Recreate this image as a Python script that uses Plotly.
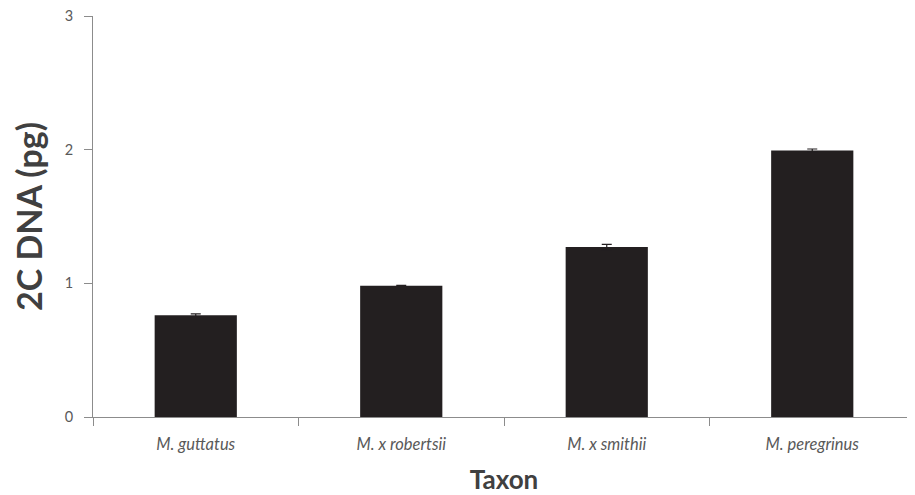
import plotly.graph_objects as go

taxa = ["M. guttatus", "M. x robertsii", "M. x smithii", "M. peregrinus"]
dna_2c = [0.762, 0.981, 1.271, 1.993]
dna_err = [0.010, 0.004, 0.020, 0.012]

fig = go.Figure()
fig.add_trace(go.Bar(
    x=taxa, y=dna_2c,
    marker=dict(color="#231f20", line=dict(width=0)),
    width=0.40,
    error_y=dict(type="data", array=dna_err, visible=True, color="#231f20", thickness=1.2, width=5),
))

axis_gray = "#8c8c8c"
fig.update_layout(
    width=907, height=487,
    margin=dict(l=85, r=0, t=8, b=78),
    paper_bgcolor="white", plot_bgcolor="white",
    showlegend=False,
    font=dict(family="Lato, 'Open Sans', sans-serif", color="#595959"),
    xaxis=dict(
        range=[-0.5, 3.5],
        showline=True, linecolor=axis_gray, linewidth=1,
        ticks="outside", ticklen=8, tickcolor=axis_gray, tickson="boundaries",
        tickfont=dict(size=16.5, style="italic", color="#595959"),
        ticklabelstandoff=12,
        title=dict(text="<b>Taxon</b>", font=dict(size=26, color="#404040"), standoff=18),
        showgrid=False, zeroline=False,
    ),
    yaxis=dict(
        range=[0, 3], tickvals=[0, 1, 2, 3],
        showline=True, linecolor=axis_gray, linewidth=1,
        ticks="outside", ticklen=8, tickcolor=axis_gray,
        tickfont=dict(size=14.5, color="#595959"),
        ticklabelstandoff=8, ticklabeloverflow="allow",
        automargin="left",
        title=dict(text="<b>2C DNA (pg)</b>", font=dict(size=34, color="#404040"), standoff=16),
        showgrid=False, zeroline=False,
    ),
)

fig.write_html("out.html")
